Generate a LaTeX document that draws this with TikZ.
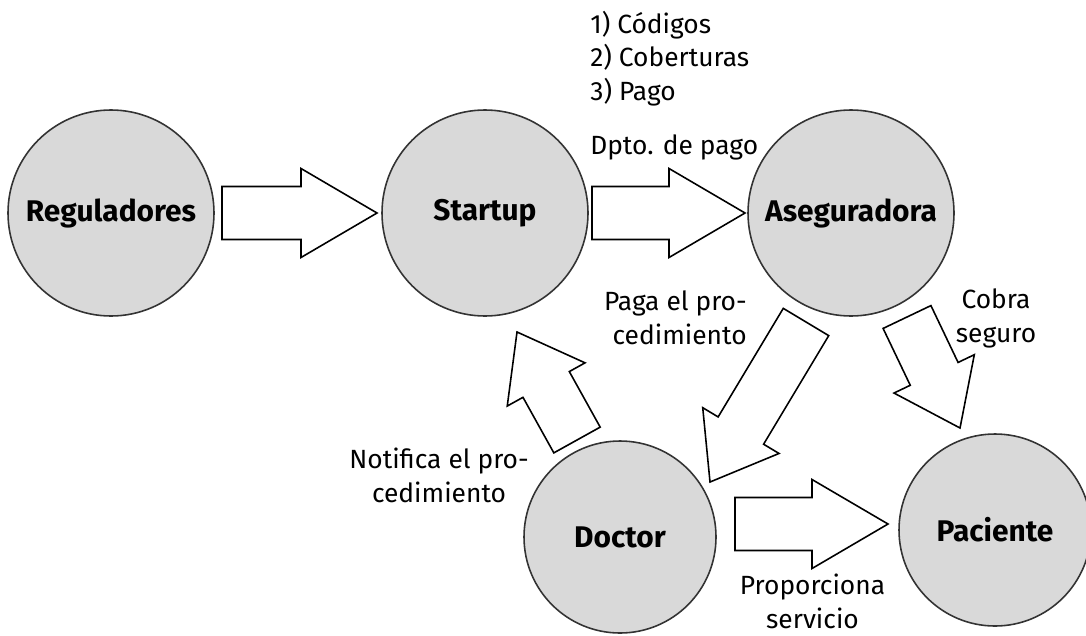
\documentclass[tikz,border=0pt]{standalone}
\usepackage{fontspec}
\setmainfont{Fira Sans}
\usepackage{tikz}
\usetikzlibrary{calc,positioning}
\definecolor{circfill}{HTML}{D9D9D9}
\definecolor{circline}{HTML}{333333}

% block arrow: [head length]{tail}{tip}
\def\shaft{0.53cm}
\def\headw{0.89cm}
\newcommand{\fatarrow}[3][1.52cm]{%
  \coordinate (ahead) at ($(#3)!#1!(#2)$);
  \draw[blockarrow] ($(#2)!\shaft!90:(#3)$) -- ($(ahead)!\shaft!90:(#3)$)
    -- ($(ahead)!\headw!90:(#3)$) -- (#3) -- ($(ahead)!\headw!-90:(#3)$)
    -- ($(ahead)!\shaft!-90:(#3)$) -- ($(#2)!\shaft!-90:(#3)$) -- cycle;}

\begin{document}
\begin{tikzpicture}[
    % --- STYLES ---
    actor/.style={
        circle, draw=circline, fill=circfill,
        line width=0.9pt, minimum size=4.12cm,
        inner sep=0pt, font=\fontsize{17}{20}\selectfont\bfseries
    },
    lower/.style={actor, minimum size=3.84cm},
    blockarrow/.style={draw=black, fill=white, line width=0.9pt, line join=miter},
    txt/.style={inner sep=0pt, align=center, font=\fontsize{15}{18.8}\selectfont}
]
\useasboundingbox (0,0) rectangle (21.72,-12.70);

% ===== 1. ACTORS =====
\node[actor] (reg) at (2.22,-4.26) {Reguladores};
\node[actor] (startup) at (9.70,-4.26) {Startup};
\node[actor] (aseg) at (17.02,-4.26) {Aseguradora};
\node[lower] (doctor) at (12.40,-10.74) {Doctor};
\node[lower] (paciente) at (19.90,-10.60) {Paciente};

% ===== 2. ARROW ENDS =====
\coordinate (reg-out) at (4.44,-4.26);
\coordinate (startup-in) at (7.54,-4.26);
\coordinate (startup-out) at (11.84,-4.26);
\coordinate (aseg-in) at (14.90,-4.26);
\coordinate (doctor-up) at (11.54,-8.80);
\coordinate (startup-low) at (10.34,-6.64);
\coordinate (aseg-left) at (16.12,-6.44);
\coordinate (doctor-top) at (14.20,-9.64);
\coordinate (aseg-right) at (18.14,-6.34);
\coordinate (paciente-top) at (19.20,-8.56);
\coordinate (doctor-out) at (14.70,-10.48);
\coordinate (paciente-in) at (17.76,-10.48);

% ===== 3. CONNECTIONS =====
\fatarrow{reg-out}{startup-in}
\fatarrow{startup-out}{aseg-in}
\fatarrow[1.20cm]{doctor-up}{startup-low}
\fatarrow[1.20cm]{aseg-left}{doctor-top}
\fatarrow[1.20cm]{aseg-right}{paciente-top}
\fatarrow{doctor-out}{paciente-in}

% ===== 4. LABELS =====
\node[txt, align=left, anchor=base west] (codes) at (11.80,-2.00) {1) Códigos\\2) Coberturas\\3) Pago};
\node[txt, anchor=base west] (dpto) at (11.80,-3.08) {Dpto. de pago};
\node[txt, align=right, anchor=base east] (paga) at (14.94,-6.88) {Paga el pro-\\cedimiento};
\node[txt, anchor=base] (cobra) at (19.92,-6.84) {Cobra\\seguro};
\node[txt, anchor=base] (notifica) at (8.78,-10.04) {Notifica el pro-\\cedimiento};
\node[txt, anchor=base] (servicio) at (16.25,-12.56) {Proporciona\\servicio};

\end{tikzpicture}
\end{document}
